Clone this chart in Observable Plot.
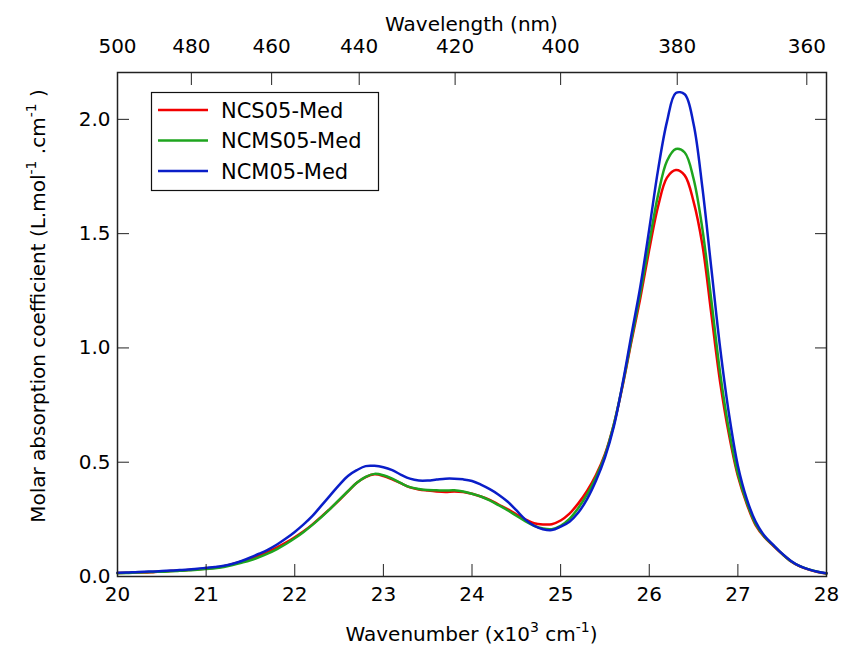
<!DOCTYPE html>
<html><head><meta charset="utf-8">
<script src="https://cdn.jsdelivr.net/npm/d3@7"></script>
<script src="https://cdn.jsdelivr.net/npm/@observablehq/plot@0.6"></script>
<style>body{margin:0;background:#fff;} svg{display:block}</style>
</head><body><div id="chart"></div>
<script>
const wavenumber = [20.0,20.1,20.2,20.3,20.4,20.5,20.6,20.7,20.8,20.9,
  21.0,21.1,21.2,21.3,21.4,21.5,21.6,21.7,21.8,21.9,
  22.0,22.1,22.2,22.3,22.4,22.5,22.6,22.7,22.8,22.9,
  23.0,23.1,23.2,23.3,23.4,23.5,23.6,23.7,23.8,23.9,
  24.0,24.1,24.2,24.3,24.4,24.5,24.6,24.7,24.8,24.9,
  25.0,25.1,25.2,25.3,25.4,25.5,25.6,25.7,25.8,25.9,
  26.0,26.1,26.2,26.3,26.4,26.5,26.6,26.7,26.8,26.9,
  27.0,27.1,27.2,27.3,27.4,27.5,27.6,27.7,27.8,27.9,28.0];
const ncs05 = [0.015,0.016,0.018,0.017,0.019,0.022,0.024,0.026,0.028,0.031,
  0.035,0.038,0.045,0.055,0.066,0.078,0.092,0.108,0.127,0.148,
  0.172,0.198,0.228,0.262,0.297,0.333,0.372,0.410,0.435,0.447,
  0.440,0.425,0.407,0.390,0.381,0.376,0.372,0.370,0.372,0.370,
  0.362,0.350,0.335,0.315,0.295,0.272,0.250,0.233,0.228,0.229,
  0.245,0.275,0.320,0.375,0.445,0.535,0.665,0.835,1.030,1.220,
  1.430,1.620,1.745,1.778,1.755,1.640,1.450,1.150,0.850,0.620,
  0.440,0.318,0.225,0.172,0.134,0.098,0.066,0.044,0.030,0.020,0.013];
const ncms05 = [0.014,0.015,0.017,0.019,0.020,0.021,0.023,0.025,0.027,0.030,
  0.033,0.036,0.042,0.050,0.060,0.071,0.085,0.101,0.120,0.142,
  0.167,0.195,0.226,0.260,0.296,0.335,0.373,0.410,0.436,0.449,
  0.443,0.428,0.408,0.391,0.383,0.378,0.377,0.376,0.377,0.372,
  0.362,0.350,0.333,0.312,0.290,0.266,0.242,0.222,0.210,0.207,
  0.222,0.252,0.300,0.360,0.435,0.530,0.665,0.840,1.040,1.240,
  1.460,1.670,1.818,1.870,1.855,1.740,1.520,1.210,0.890,0.640,
  0.450,0.325,0.230,0.174,0.136,0.099,0.067,0.045,0.031,0.021,0.013];
const ncm05 = [0.016,0.017,0.019,0.021,0.022,0.024,0.026,0.028,0.031,0.034,
  0.038,0.042,0.047,0.056,0.068,0.083,0.100,0.118,0.140,0.166,
  0.195,0.228,0.265,0.310,0.355,0.400,0.440,0.465,0.483,0.484,
  0.478,0.465,0.445,0.428,0.420,0.420,0.424,0.428,0.428,0.425,
  0.418,0.402,0.382,0.358,0.328,0.290,0.250,0.222,0.207,0.203,
  0.218,0.240,0.280,0.340,0.420,0.520,0.655,0.845,1.060,1.270,
  1.520,1.780,1.990,2.115,2.110,1.980,1.700,1.350,1.000,0.710,
  0.485,0.340,0.240,0.178,0.138,0.100,0.068,0.045,0.031,0.021,0.014];

const seriesNames = ["NCS05-Med", "NCMS05-Med", "NCM05-Med"];
const seriesColors = ["#f20000", "#1ea51e", "#0a1ec8"];
const xTicks = [20, 21, 22, 23, 24, 25, 26, 27, 28];
const yTicks = [0, 0.5, 1.0, 1.5, 2.0];
const wavelengthTicks = [500, 480, 460, 440, 420, 400, 380, 360];

const seriesValues = [ncs05, ncms05, ncm05];
const rows = [];
seriesValues.forEach((vals, k) => vals.forEach((v, i) => rows.push({x: wavenumber[i], y: v, s: seriesNames[k]})));

const font = "'DejaVu Sans', Verdana, sans-serif";
const axisColor = "#222";

const plot = Plot.plot({
  width: 842, height: 647,
  marginLeft: 117, marginRight: 16, marginTop: 72, marginBottom: 71,
  style: {fontFamily: font, fontSize: "20px", background: "white", color: "#000", overflow: "visible"},
  x: {domain: [20, 28]},
  y: {domain: [0, 2.205]},
  color: {domain: seriesNames, range: seriesColors},
  marks: [
    Plot.line(rows, {x: "x", y: "y", z: "s", stroke: "s", strokeWidth: 2.5, curve: "catmull-rom"}),
    Plot.frame({stroke: axisColor, strokeWidth: 1.5}),
    Plot.axisX(xTicks, {anchor: "bottom", tickSize: -12, tickPadding: 22, label: null, stroke: axisColor, fontSize: 20, tickFormat: d => String(d)}),
    Plot.axisX(wavelengthTicks.map(w => 1e4 / w), {anchor: "top", tickSize: -12, tickPadding: 32, label: null, stroke: axisColor, fontSize: 20, tickFormat: (d, i) => String(wavelengthTicks[i])}),
    Plot.axisY(yTicks, {anchor: "left", tickSize: -12, tickPadding: 19, label: null, stroke: axisColor, fontSize: 20, tickFormat: d3.format(".1f")}),
    Plot.axisY(yTicks, {anchor: "right", tickSize: -12, tickPadding: 0, label: null, stroke: axisColor, fontSize: 20, tickFormat: () => ""})
  ]
});
document.getElementById("chart").appendChild(plot);

const svg = d3.select(plot);
const g = svg.append("g").attr("font-family", font).attr("fill", "#000");

// axis titles
g.append("text").attr("x", 471.5).attr("y", 30.5).attr("text-anchor", "middle").attr("font-size", 20).text("Wavelength (nm)");

const bt = g.append("text").attr("x", 471.5).attr("y", 640.5).attr("text-anchor", "middle").attr("font-size", 20);
bt.append("tspan").text("Wavenumber (x10");
bt.append("tspan").attr("font-size", 14).attr("dy", -9).text("3");
bt.append("tspan").attr("dy", 9).text(" cm");
bt.append("tspan").attr("font-size", 14).attr("dy", -9).text("-1");
bt.append("tspan").attr("dy", 9).text(")");

const yt = g.append("text").attr("transform", "translate(45,306) rotate(-90)").attr("text-anchor", "middle").attr("font-size", 20);
yt.append("tspan").text("Molar absorption coefficient (L.mol");
yt.append("tspan").attr("font-size", 14).attr("dy", -9).text("-1");
yt.append("tspan").attr("dy", 9).text(" .cm");
yt.append("tspan").attr("font-size", 14).attr("dy", -9).text("-1");
yt.append("tspan").attr("dy", 9).text(" )");

// legend
const lg = g.append("g");
lg.append("rect").attr("x", 151.5).attr("y", 92.5).attr("width", 227).attr("height", 98)
  .attr("fill", "white").attr("stroke", "#111").attr("stroke-width", 1.2);
seriesNames.forEach((name, i) => {
  const cy = 110 + i * 30.5;
  lg.append("line").attr("x1", 158).attr("x2", 208).attr("y1", cy).attr("y2", cy)
    .attr("stroke", seriesColors[i]).attr("stroke-width", 2.5);
  lg.append("text").attr("x", 221).attr("y", cy).attr("dy", "0.36em").attr("text-anchor", "start")
    .attr("font-size", 21).text(name);
});
</script>
</body></html>
